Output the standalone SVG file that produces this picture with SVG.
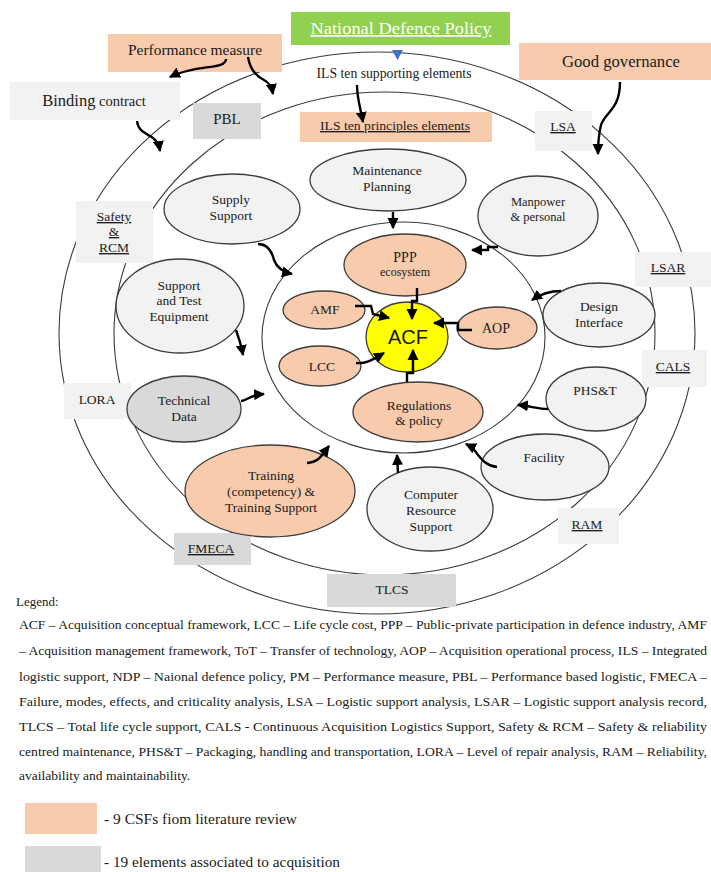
<svg xmlns="http://www.w3.org/2000/svg" width="711" height="872" viewBox="0 0 711 872">
<style>
.ring{fill:none;stroke:#3a3a3a;stroke-width:1.1}
.ng{fill:#f2f2f2;stroke:#3c3c3c;stroke-width:1.3}
.nd{fill:#d9d9d9;stroke:#3c3c3c;stroke-width:1.3}
.np{fill:#f8cbad;stroke:#3c3c3c;stroke-width:1.3}
.bl{fill:#f2f2f2}
.bd{fill:#d9d9d9}
.bp{fill:#f8cbad}
.t{font-family:"Liberation Serif","Times New Roman",serif;font-size:13.5px;fill:#1a1a1a;text-anchor:middle}
.u{text-decoration:underline}
.arr{fill:none;stroke:#000;stroke-width:2.4;marker-end:url(#ah)}
.leg{font-family:"Liberation Serif","Times New Roman",serif;font-size:13.5px;fill:#1a1a1a}
</style>
<defs>
<marker id="ah" viewBox="0 0 10 10" refX="9" refY="5" markerWidth="4.6" markerHeight="4.6" orient="auto" markerUnits="strokeWidth"><path d="M0,0 L10,5 L0,10 z" fill="#000"/></marker>
</defs>

<g id="rings">
<ellipse class="ring" cx="377" cy="333" rx="318" ry="281"/>
<ellipse class="ring" cx="384.5" cy="333.5" rx="270.5" ry="241.5"/>
<ellipse class="ring" cx="403.5" cy="337.5" rx="141.5" ry="115.5"/>
</g>

<g id="ndp"><rect x="291" y="12" width="219" height="33" fill="#92d050"/><text class="t u" x="401" y="34" style="font-size:17px;fill:#fff" textLength="181" lengthAdjust="spacingAndGlyphs">National Defence Policy</text></g>
<g id="pm"><rect class="bp" x="108" y="34" width="174" height="38"/><text class="t" x="195" y="55" style="font-size:15.5px" textLength="134" lengthAdjust="spacingAndGlyphs">Performance measure</text></g>
<g id="gg"><rect class="bp" x="519" y="43" width="192" height="37"/><text class="t" x="621" y="67" style="font-size:16px" textLength="118" lengthAdjust="spacingAndGlyphs">Good governance</text></g>
<g id="binding"><rect class="bl" x="10" y="82" width="170" height="38"/><text class="t" x="94" y="106"><tspan style="font-size:16.5px">Binding</tspan><tspan style="font-size:14.5px"> contract</tspan></text></g>
<g id="ils-supp"><text class="t" x="394" y="78" style="font-size:14px" textLength="155" lengthAdjust="spacingAndGlyphs">ILS ten supporting elements</text></g>
<g id="pbl"><rect class="bd" x="193" y="103" width="68" height="36"/><text class="t" x="227" y="124" style="font-size:15px">PBL</text></g>
<g id="ils-prin"><rect class="bp" x="300" y="112" width="192" height="30"/><text class="t u" x="395" y="130" style="font-size:13.5px" textLength="150" lengthAdjust="spacingAndGlyphs">ILS ten principles elements</text></g>
<g id="lsa"><rect class="bl" x="535" y="111" width="57" height="40"/><text class="t u" x="563" y="131">LSA</text></g>
<g id="safety"><rect class="bl" x="76" y="201" width="77" height="62"/><text class="t u" x="114" y="221">Safety</text><text class="t u" x="114" y="236">&amp;</text><text class="t u" x="114" y="252">RCM</text></g>
<g id="lsar"><rect class="bl" x="635" y="252" width="76" height="35"/><text class="t u" x="668" y="272">LSAR</text></g>
<g id="cals"><rect class="bl" x="642" y="350" width="65" height="37"/><text class="t u" x="673" y="371">CALS</text></g>
<g id="lora"><rect class="bl" x="64" y="383" width="67" height="36"/><text class="t" x="97" y="404">LORA</text></g>
<g id="ram"><rect class="bl" x="558" y="508" width="61" height="36"/><text class="t u" x="587" y="529">RAM</text></g>
<g id="fmeca"><rect class="bd" x="174" y="533" width="77" height="32"/><text class="t u" x="211" y="553">FMECA</text></g>
<g id="tlcs"><rect class="bd" x="327" y="574" width="129" height="33"/><text class="t" x="392" y="594">TLCS</text></g>

<g id="maint"><ellipse class="ng" cx="388" cy="180" rx="78" ry="31"/><text class="t" x="387" y="175">Maintenance</text><text class="t" x="387" y="191">Planning</text></g>
<g id="manpower"><ellipse class="ng" cx="538" cy="216" rx="60" ry="40"/><text class="t" x="538" y="206" style="font-size:12.5px">Manpower</text><text class="t" x="538" y="221" style="font-size:12.5px">&amp; personal</text></g>
<g id="supply"><ellipse class="ng" cx="232" cy="209" rx="68" ry="35"/><text class="t" x="231" y="204">Supply</text><text class="t" x="231" y="220">Support</text></g>
<g id="ste"><ellipse class="ng" cx="180" cy="306" rx="64" ry="47"/><text class="t" x="179" y="290">Support</text><text class="t" x="179" y="305">and Test</text><text class="t" x="179" y="321">Equipment</text></g>
<g id="techdata"><ellipse class="nd" cx="184" cy="409" rx="57" ry="33"/><text class="t" x="184" y="405">Technical</text><text class="t" x="184" y="421">Data</text></g>
<g id="training"><ellipse class="np" cx="270" cy="491" rx="85" ry="46"/><text class="t" x="271" y="480">Training</text><text class="t" x="271" y="496">(competency) &amp;</text><text class="t" x="271" y="512">Training Support</text></g>
<g id="crs"><ellipse class="ng" cx="430" cy="509" rx="63" ry="42"/><text class="t" x="431" y="499">Computer</text><text class="t" x="431" y="515">Resource</text><text class="t" x="431" y="531">Support</text></g>
<g id="facility"><ellipse class="ng" cx="545" cy="467" rx="64" ry="33"/><text class="t" x="544" y="462">Facility</text></g>
<g id="phst"><ellipse class="ng" cx="596" cy="399" rx="50" ry="32"/><text class="t" x="595" y="395">PHS&amp;T</text></g>
<g id="design"><ellipse class="ng" cx="599" cy="315" rx="56" ry="32"/><text class="t" x="599" y="311">Design</text><text class="t" x="599" y="327">Interface</text></g>

<g id="ppp"><ellipse class="np" cx="405" cy="265" rx="61" ry="31"/><text class="t" x="405" y="262" style="font-size:14px">PPP</text><text class="t" x="405" y="276" style="font-size:12px">ecosystem</text></g>
<g id="amf"><ellipse class="np" cx="324" cy="310" rx="41" ry="19"/><text class="t" x="325" y="314">AMF</text></g>
<g id="lcc"><ellipse class="np" cx="320" cy="366" rx="41" ry="20"/><text class="t" x="322" y="371">LCC</text></g>
<g id="aop"><ellipse class="np" cx="497" cy="328" rx="40" ry="21"/><text class="t" x="496" y="333" style="font-size:14px">AOP</text></g>
<g id="regs"><ellipse class="np" cx="418" cy="412" rx="65" ry="30"/><text class="t" x="419" y="410">Regulations</text><text class="t" x="419" y="425">&amp; policy</text></g>
<g id="acf"><ellipse cx="407" cy="337" rx="41" ry="35" fill="#ffff00" stroke="#3c3c3c" stroke-width="1.3"/><text x="408" y="344" style="font-family:'Liberation Sans',Arial,sans-serif;font-size:20px;fill:#1a1a1a;text-anchor:middle">ACF</text></g>

<g id="connectors">
<path d="M392,50 L403,50 L397.5,60 z" fill="#4472c4"/>
<path class="arr" d="M226,59 C226,70 196,64 170,77"/>
<path class="arr" d="M248,57 C250,70 256,76 264,80 C270,83 272,88 273,94"/>
<path class="arr" d="M137,121 C138,132 148,134 153,138 C157,141 159,145 160,151"/>
<path class="arr" d="M357,85 C357,98 360,106 363,122"/>
<path class="arr" d="M620,82 C620,110 605,112 601,125 C599,133 598,143 598,154"/>
<path class="arr" d="M258,244 C268,244 272,252 274,260 C277,268 283,272 292,274"/>
<path class="arr" d="M393,212 L393,228"/>
<path class="arr" d="M498,247 L488,247 L488,250 L472,250"/>
<path class="arr" d="M561,291 C550,291 542,293 532,300"/>
<path class="arr" d="M417,288 L417,301 L412,301 L412,319"/>
<path class="arr" d="M355,306 L371,306 L373,314 L389,318"/>
<path class="arr" d="M356,363 C366,364 372,360 384,353"/>
<path class="arr" d="M472,330 L458,330 L458,323 L434,323"/>
<path class="arr" d="M407,382 L407,373 L413,373 L413,350"/>
<path class="arr" d="M236,330 C239,338 241,344 243,355"/>
<path class="arr" d="M241,401 C247,401 249,395 264,394"/>
<path class="arr" d="M307,463 C318,462 320,458 329,446"/>
<path class="arr" d="M398,473 L397,455"/>
<path class="arr" d="M497,467 C487,466 482,460 478,455 C475,450 472,447 466,444"/>
<path class="arr" d="M548,409 C538,409 530,406 518,405"/>
</g>

<g id="legend">
<text class="leg" x="16" y="606" style="font-size:13px">Legend:</text>
<text class="leg" x="19" y="629" textLength="688" lengthAdjust="spacingAndGlyphs">ACF – Acquisition conceptual framework, LCC – Life cycle cost, PPP – Public-private participation in defence industry,  AMF</text>
<text class="leg" x="19" y="655" textLength="688" lengthAdjust="spacingAndGlyphs">– Acquisition management framework,  ToT – Transfer of technology, AOP – Acquisition operational process,  ILS – Integrated</text>
<text class="leg" x="19" y="681" textLength="688" lengthAdjust="spacingAndGlyphs">logistic support, NDP – Naional defence policy, PM – Performance measure, PBL – Performance based  logistic, FMECA –</text>
<text class="leg" x="19" y="706" textLength="688" lengthAdjust="spacingAndGlyphs">Failure, modes, effects, and criticality analysis, LSA – Logistic support analysis, LSAR – Logistic support analysis record,</text>
<text class="leg" x="19" y="731" textLength="688" lengthAdjust="spacingAndGlyphs">TLCS – Total life cycle support, CALS - Continuous Acquisition Logistics Support, Safety &amp; RCM – Safety &amp; reliability</text>
<text class="leg" x="19" y="756" textLength="688" lengthAdjust="spacingAndGlyphs">centred maintenance, PHS&amp;T – Packaging, handling and transportation, LORA – Level of repair analysis, RAM – Reliability,</text>
<text class="leg" x="19" y="780">availability and maintainability.</text>
<rect class="bp" x="25" y="803" width="72" height="31"/>
<text class="leg" x="104" y="824" style="font-size:14px" textLength="193" lengthAdjust="spacingAndGlyphs">- 9 CSFs fiom literature review</text>
<rect class="bd" x="25" y="846" width="76" height="30"/>
<text class="leg" x="104" y="867" style="font-size:14px" textLength="236" lengthAdjust="spacingAndGlyphs">- 19 elements associated to acquisition</text>
</g>
</svg>
